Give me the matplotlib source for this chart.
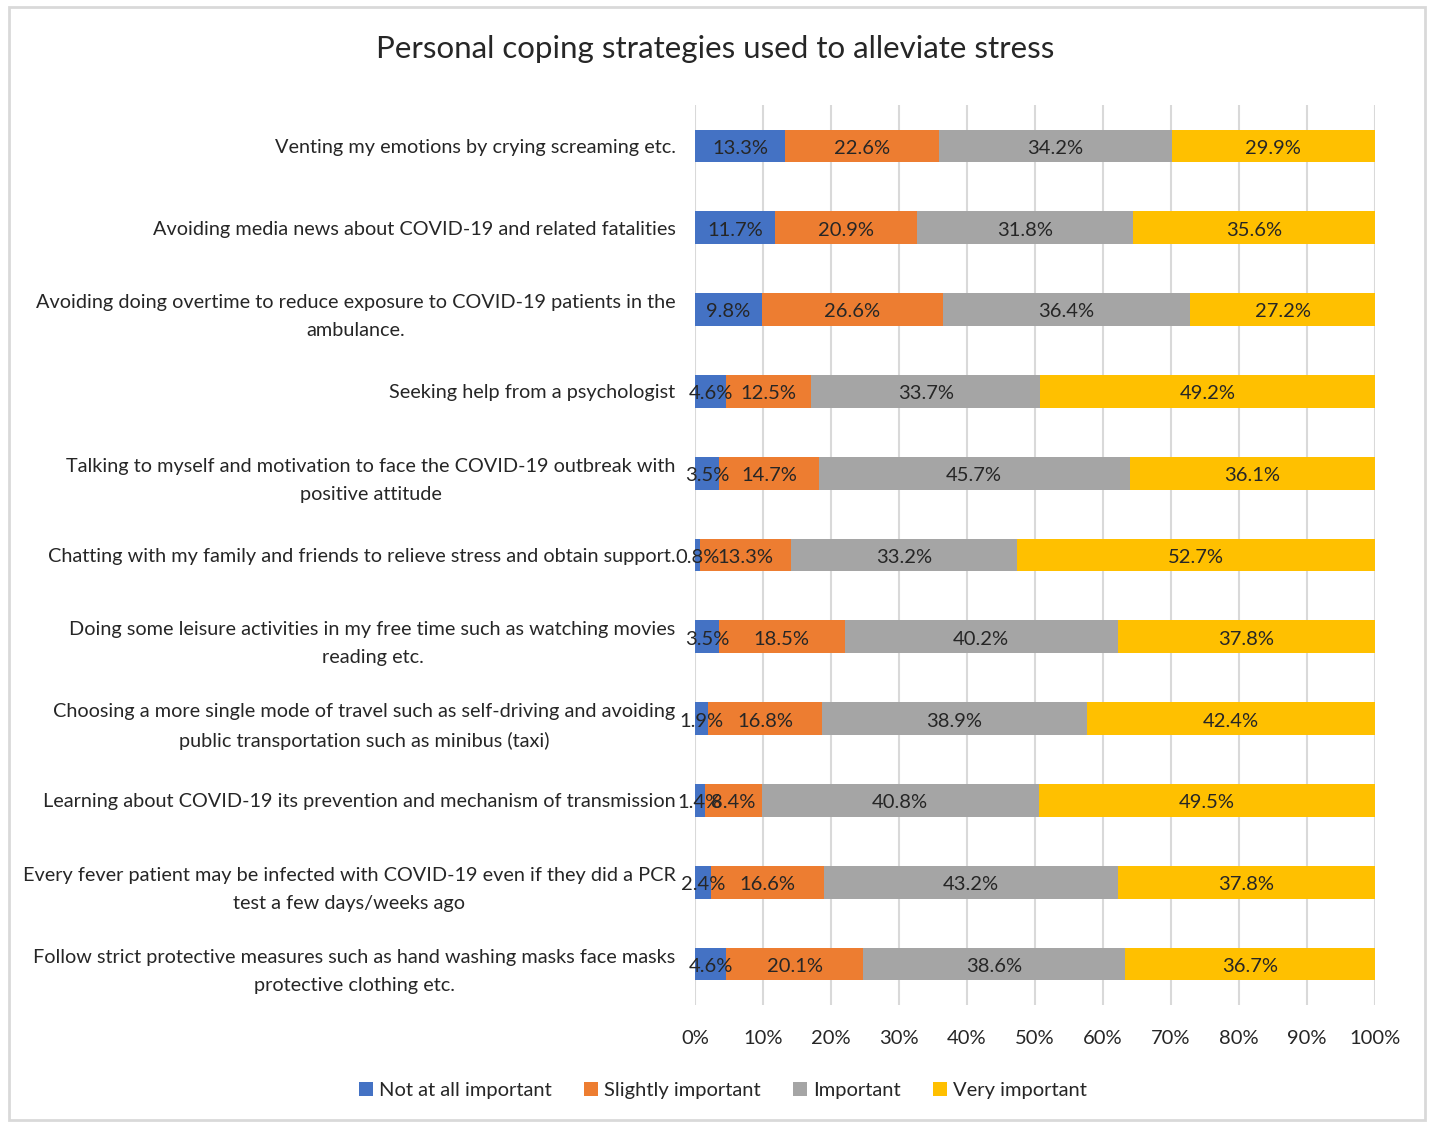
import numpy as np
import matplotlib.pyplot as plt
from matplotlib.patches import Rectangle
from matplotlib.ticker import PercentFormatter

plt.rcParams['font.family'] = ['Lato', 'DejaVu Sans']

strategies = [
    "Venting my emotions by crying screaming etc.",
    "Avoiding media news about COVID-19 and related fatalities",
    "Avoiding doing overtime to reduce exposure to COVID-19 patients in the\nambulance.",
    "Seeking help from a psychologist",
    "Talking to myself and motivation to face the COVID-19 outbreak with\npositive attitude",
    "Chatting with my family and friends to relieve stress and obtain support.",
    "Doing some leisure activities in my free time such as watching movies\nreading etc.",
    "Choosing a more single mode of travel such as self-driving and avoiding\npublic transportation such as minibus (taxi)",
    "Learning about COVID-19 its prevention and mechanism of transmission",
    "Every fever patient may be infected with COVID-19 even if they did a PCR\ntest a few days/weeks ago",
    "Follow strict protective measures such as hand washing masks face masks\nprotective clothing etc.",
]
levels = ["Not at all important", "Slightly important", "Important", "Very important"]
not_at_all = [13.3, 11.7, 9.8, 4.6, 3.5, 0.8, 3.5, 1.9, 1.4, 2.4, 4.6]
slightly = [22.6, 20.9, 26.6, 12.5, 14.7, 13.3, 18.5, 16.8, 8.4, 16.6, 20.1]
important = [34.2, 31.8, 36.4, 33.7, 45.7, 33.2, 40.2, 38.9, 40.8, 43.2, 38.6]
very = [29.9, 35.6, 27.2, 49.2, 36.1, 52.7, 37.8, 42.4, 49.5, 37.8, 36.7]
colors = ["#4472C4", "#ED7D31", "#A5A5A5", "#FFC000"]

data = np.array([not_at_all, slightly, important, very])
# 100% stacked: normalise each row to its total
shares = data / data.sum(axis=0) * 100

fig = plt.figure(figsize=(14.31, 11.24), dpi=100)
ax = fig.add_axes([0.4857, 0.1059, 0.4752, 0.8007])

y = np.arange(len(strategies))
left = np.zeros(len(strategies))
for i, (name, col) in enumerate(zip(levels, colors)):
    ax.barh(y, shares[i], left=left, height=0.4, color=col, label=name, zorder=3)
    for yy, l, w, v in zip(y, left, shares[i], data[i]):
        ax.text(l + w / 2, yy + 0.03, f"{v:.1f}%", ha='center', va='center',
                fontsize=14.5, color='#262626', zorder=4)
    left += shares[i]

ax.set_xlim(0, 100)
ax.set_ylim(len(strategies) - 0.5, -0.5)
ax.set_xticks(np.arange(0, 101, 10))
ax.xaxis.set_major_formatter(PercentFormatter(decimals=0))
ax.set_yticks(y)
ax.set_yticklabels(strategies, multialignment='center', linespacing=1.8)
ax.tick_params(axis='y', length=0, pad=14, labelsize=14.3, labelcolor='#262626')
ax.tick_params(axis='x', length=0, pad=18, labelsize=14.5, labelcolor='#262626')
ax.grid(axis='x', color='#d9d9d9', linewidth=1.5, zorder=0)
for s in ax.spines.values():
    s.set_visible(False)

fig.suptitle("Personal coping strategies used to alleviate stress", y=0.956, va='center',
             fontsize=22.5, color='#262626')
fig.legend(loc='center', bbox_to_anchor=(0.505, 0.030), ncol=4, frameon=False,
           fontsize=14.5, handlelength=0.7, handleheight=0.7, handletextpad=0.3,
           columnspacing=1.6, labelcolor='#262626')

# light chart border
fig.patches.append(Rectangle((0.006, 0.004), 0.99, 0.99, transform=fig.transFigure,
                             fill=False, edgecolor='#d9d9d9', linewidth=2))

fig.savefig("out.png", dpi=100)
